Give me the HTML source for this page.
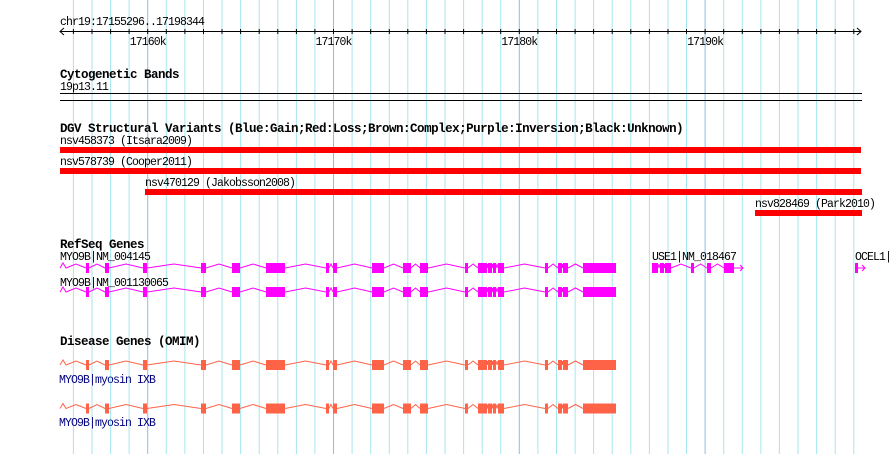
<!DOCTYPE html>
<html><head><meta charset="utf-8"><style>
html,body{margin:0;padding:0;background:#fff;}
svg{display:block;}
text{font-family:"Liberation Mono","DejaVu Sans Mono",monospace;font-size:11.5px;letter-spacing:-0.9px;}
.b{font-weight:bold;font-size:12.5px;letter-spacing:-0.5px;}
</style></head><body>
<svg id="s" width="890" height="454" xmlns="http://www.w3.org/2000/svg"></svg>
<script>
var s=document.getElementById('s'),h='';
for(var k=0;k<=42;k++){var x=73.4+k*18.58;var major=((k+6)%10==0);
h+='<line x1="'+x.toFixed(1)+'" y1="0" x2="'+x.toFixed(1)+'" y2="454" stroke="'+(major?'#8cbfe6':'#a6e6ee')+'" stroke-width="1"/>';}
h+='<text x="60" y="25">chr19:17155296..17198344</text>';
h+='<line x1="60" y1="31.5" x2="861" y2="31.5" stroke="#000"/>';
h+='<polyline points="64,28 60,31.5 64,35" fill="none" stroke="#000"/><polyline points="857,28 861,31.5 857,35" fill="none" stroke="#000"/>';
for(var k=0;k<=42;k++){var x=73.4+k*18.58;h+='<line x1="'+x.toFixed(1)+'" y1="29" x2="'+x.toFixed(1)+'" y2="34" stroke="#000"/>';}
[['17160k',147.7],['17170k',333.5],['17180k',519.3],['17190k',705.1]].forEach(function(a){h+='<text x="'+a[1]+'" y="45" text-anchor="middle">'+a[0]+'</text>';});
h+='<text class="b" x="60" y="78">Cytogenetic Bands</text><text x="60" y="90">19p13.11</text>';
h+='<line x1="60" y1="93.5" x2="862" y2="93.5" stroke="#000"/><line x1="60" y1="100.5" x2="862" y2="100.5" stroke="#000"/>';
h+='<text class="b" x="60" y="132">DGV Structural Variants (Blue:Gain;Red:Loss;Brown:Complex;Purple:Inversion;Black:Unknown)</text>';
h+='<text x="60" y="144">nsv458373 (Itsara2009)</text><rect x="60" y="147" width="801" height="6" fill="#f00"/>';
h+='<text x="60" y="165">nsv578739 (Cooper2011)</text><rect x="60" y="168" width="801" height="6" fill="#f00"/>';
h+='<text x="145" y="186">nsv470129 (Jakobsson2008)</text><rect x="145" y="189" width="717" height="6" fill="#f00"/>';
h+='<text x="755" y="207">nsv828469 (Park2010)</text><rect x="755" y="210" width="107" height="6" fill="#f00"/>';
var myo=[[86,88],[105,108],[143,146],[201,205],[232,239],[266,284],[326,328],[333,336],[372,377],[378,383],[403,410],[420,423],[424,427],[465,467],[478,482],[483,486],[488,491],[493,495],[498,503],[545,547],[558,561],[563,567],[583,587],[588,615]];
function gene(ex,yc,col,hh,arrow,lead){var o='';
if(lead){o+='<polyline points="60,'+yc+' 63,'+(yc-5)+' 66,'+yc+' 76,'+(yc-4)+' '+ex[0][0]+','+yc+'" fill="none" stroke="'+col+'"/>';}
for(var i=0;i<ex.length;i++){o+='<rect x="'+ex[i][0]+'" y="'+(yc-hh/2)+'" width="'+(ex[i][1]-ex[i][0]+1)+'" height="'+hh+'" fill="'+col+'"/>';
if(i<ex.length-1){var a=ex[i][1]+1,b=ex[i+1][0],m=(a+b)/2;o+='<polyline points="'+a+','+yc+' '+m+','+(yc-4)+' '+b+','+yc+'" fill="none" stroke="'+col+'"/>';}}
if(arrow){var e=ex[ex.length-1][1]+1;o+='<line x1="'+e+'" y1="'+yc+'" x2="'+arrow+'" y2="'+yc+'" stroke="'+col+'"/><polyline points="'+(arrow-3)+','+(yc-3)+' '+arrow+','+yc+' '+(arrow-3)+','+(yc+3)+'" fill="none" stroke="'+col+'"/>';}
return o;}
h+='<text class="b" x="60" y="248">RefSeq Genes</text>';
h+='<text x="60" y="260">MYO9B|NM_004145</text>'+gene(myo,268,'#f0f',10,0,1);
h+='<text x="60" y="286">MYO9B|NM_001130065</text>'+gene(myo,292,'#f0f',10,0,1);
h+='<text x="652" y="260">USE1|NM_018467</text>'+gene([[652,657],[660,663],[665,670],[691,693],[707,710],[724,728],[729,733]],268,'#f0f',10,743);
h+='<text x="855" y="260">OCEL1|</text>'+gene([[855,857]],268,'#f0f',10,865);
h+='<text class="b" x="60" y="345">Disease Genes (OMIM)</text>';
h+=gene(myo,365,'#ff6347',10,0,1)+'<text x="59" y="383" fill="#000080">MYO9B|myosin IXB</text>';
h+=gene(myo,408.5,'#ff6347',10,0,1)+'<text x="59" y="426" fill="#000080">MYO9B|myosin IXB</text>';
s.innerHTML=h;
</script>
</body></html>
